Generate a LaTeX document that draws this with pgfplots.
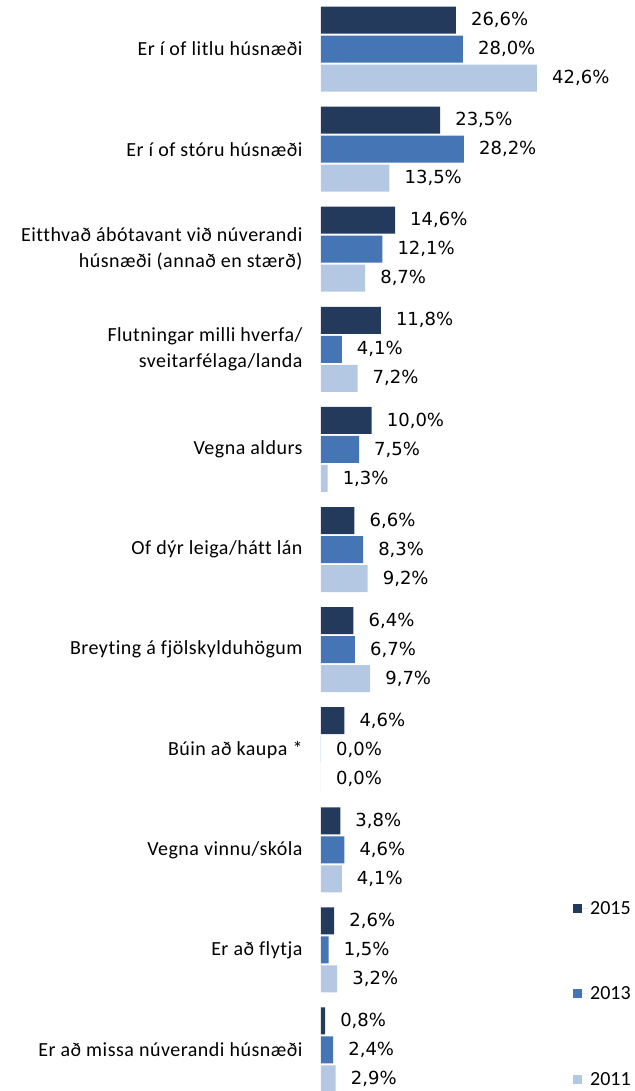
\documentclass[border=0pt]{standalone}
\usepackage{fontspec}
\setmainfont{Carlito}
\newfontfamily\labfont[LetterSpace=2.5,Ligatures=NoCommon]{Carlito}
\newfontfamily\numfont{DejaVu Sans}
\usepackage{pgfplots}
\pgfplotsset{compat=1.18}
\definecolor{cA}{HTML}{243A5C}
\definecolor{cB}{HTML}{4575B4}
\definecolor{cC}{HTML}{B4C8E3}
\begin{document}
\begin{tikzpicture}
\begin{axis}[
  scale only axis, width=314pt, height=1091pt,
  xmin=0, xmax=61.93, ymin=-0.49, ymax=10.41, y dir=reverse,
  axis line style={draw=none}, tick style={draw=none},
  xtick=\empty, ytick={0,1,2,3,4,5,6,7,8,9,10},
  yticklabels={{Er í of litlu húsnæði},{Er í of stóru húsnæði},{Eitthvað ábótavant við núverandi\\húsnæði (annað en stærð)},{Flutningar milli hverfa/\\sveitarfélaga/landa},{Vegna aldurs},{Of dýr leiga/hátt lán},{Breyting á fjölskylduhögum},{Búin að kaupa *},{Vegna vinnu/skóla},{Er að flytja},{Er að missa núverandi húsnæði}},
  yticklabel style={align=right, font=\labfont\fontsize{20}{26}\selectfont, inner sep=0pt, xshift=-14pt},
  clip=false,
  xbar, bar width=27pt,
  point meta=x,
  nodes near coords={\pgfmathprintnumber[fixed,fixed zerofill,precision=1,use comma,assume math mode=true]{\pgfplotspointmeta}\%},
  nodes near coords style={font=\numfont\fontsize{18}{20}\selectfont, anchor=west, inner sep=0pt, xshift=15pt},
  legend entries={2015,2013,2011},
  legend cell align=left,
  legend style={draw=none, fill=none, at={(axis description cs:0.8025,0.176)}, anchor=north west, row sep=67pt, inner sep=0pt, font=\fontsize{20}{22}\selectfont},
  legend image code/.code={\fill[#1] (0pt,-4.5pt) rectangle (9pt,4.5pt); \path (0pt,0pt) -- (15pt,0pt);},
]
\addplot[fill=cA, draw=none, bar shift=29pt] coordinates {(26.6,0) (23.5,1) (14.6,2) (11.8,3) (10.0,4) (6.6,5) (6.4,6) (4.6,7) (3.8,8) (2.6,9) (0.8,10)};
\addplot[fill=cB, draw=none, bar shift=0pt] coordinates {(28.0,0) (28.2,1) (12.1,2) (4.1,3) (7.5,4) (8.3,5) (6.7,6) (0.0,7) (4.6,8) (1.5,9) (2.4,10)};
\addplot[fill=cC, draw=none, bar shift=-29pt] coordinates {(42.6,0) (13.5,1) (8.7,2) (7.2,3) (1.3,4) (9.2,5) (9.7,6) (0.0,7) (4.1,8) (3.2,9) (2.9,10)};
\coordinate (bl) at (axis description cs:0,0);
\coordinate (tr) at (axis description cs:1,1);
\end{axis}
\pgfresetboundingbox
\path (bl) ++(-321pt,0) rectangle (tr);
\end{tikzpicture}
\end{document}
